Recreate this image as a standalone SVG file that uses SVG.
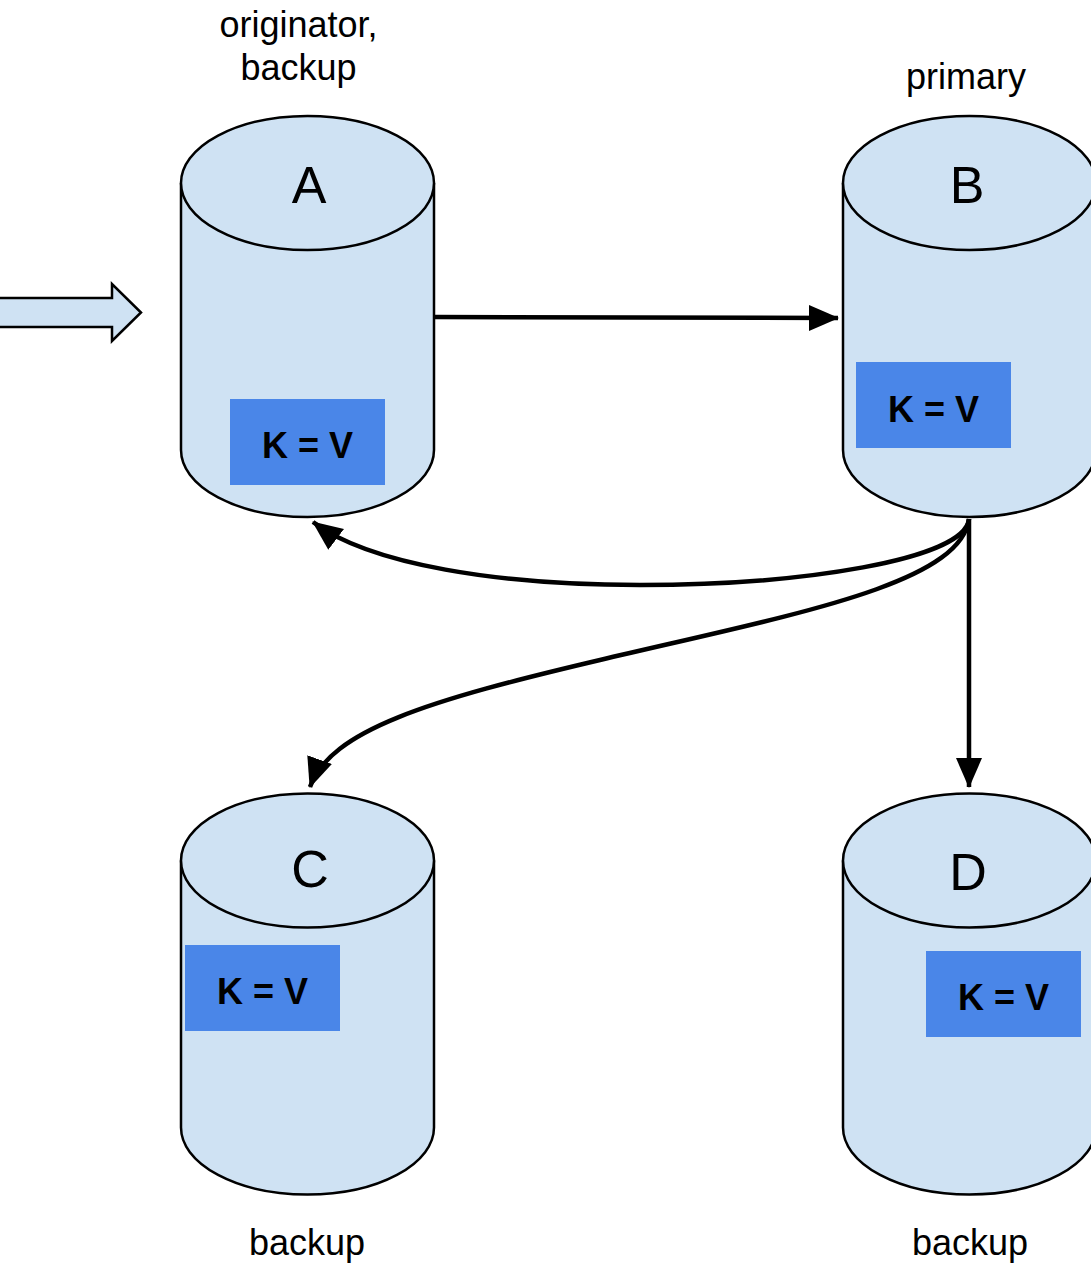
<svg xmlns="http://www.w3.org/2000/svg" width="1091" height="1265" viewBox="0 0 1091 1265">
<style>
.cyl{fill:#cfe2f3;stroke:#000;stroke-width:2.5}
.box{fill:#4a86e8}
.kv{font-family:"Liberation Sans",Arial,sans-serif;font-weight:bold;font-size:36px;text-anchor:middle;fill:#000}
.big{font-family:"Liberation Sans",Arial,sans-serif;font-size:52px;text-anchor:middle;fill:#000}
.lbl{font-family:"Liberation Sans",Arial,sans-serif;font-size:36px;text-anchor:middle;fill:#000}
.con{fill:none;stroke:#000;stroke-width:4.5;marker-end:url(#ah)}
</style>
<defs>
<marker id="ah" markerUnits="userSpaceOnUse" markerWidth="32" markerHeight="28" refX="29" refY="13" orient="auto" viewBox="0 0 32 26">
<path d="M0,0 L30,13 L0,26 Z" fill="#000"/>
</marker>
</defs>
<rect width="1091" height="1265" fill="#fff"/>

<g id="input-arrow">
<path d="M-5,298 L112,298 L112,284 L141,312.5 L112,341 L112,327 L-5,327 Z" fill="#cfe2f3" stroke="#000" stroke-width="2.5" stroke-linejoin="miter"/>
</g>

<g id="A">
<path class="cyl" d="M181,183 L181,450 A126.5,67 0 0 0 434,450 L434,183"/>
<ellipse class="cyl" cx="307.5" cy="183" rx="126.5" ry="67"/>
<text class="big" x="309" y="203">A</text>
<rect class="box" x="230" y="399" width="155" height="86"/>
<text class="kv" x="307.5" y="458">K = V</text>
<text class="lbl" x="298.5" y="37">originator,</text>
<text class="lbl" x="298.5" y="80">backup</text>
</g>

<g id="B">
<path class="cyl" d="M843,183 L843,450 A126.5,67 0 0 0 1096,450 L1096,183"/>
<ellipse class="cyl" cx="969.5" cy="183" rx="126.5" ry="67"/>
<text class="big" x="967" y="203">B</text>
<rect class="box" x="856" y="362" width="155" height="86"/>
<text class="kv" x="933.5" y="422">K = V</text>
<text class="lbl" x="966" y="89">primary</text>
</g>

<g id="C">
<path class="cyl" d="M181,860.5 L181,1127.5 A126.5,67 0 0 0 434,1127.5 L434,860.5"/>
<ellipse class="cyl" cx="307.5" cy="860.5" rx="126.5" ry="67"/>
<text class="big" x="310" y="887">C</text>
<rect class="box" x="185" y="945" width="155" height="86"/>
<text class="kv" x="262.5" y="1004">K = V</text>
<text class="lbl" x="307" y="1255">backup</text>
</g>

<g id="D">
<path class="cyl" d="M843,860.5 L843,1127.5 A126.5,67 0 0 0 1096,1127.5 L1096,860.5"/>
<ellipse class="cyl" cx="969.5" cy="860.5" rx="126.5" ry="67"/>
<text class="big" x="968" y="890">D</text>
<rect class="box" x="926" y="951" width="155" height="86"/>
<text class="kv" x="1003.5" y="1010">K = V</text>
<text class="lbl" x="970" y="1255">backup</text>
</g>

<g id="connectors">
<path class="con" d="M435,317 L838,318"/>
<path class="con" d="M969,519 C965,560 800,585 640,585 C500,585 370,565 313,522"/>
<path class="con" d="M969,519 C960,585 790,615 600,660 C430,700 330,730 310,787"/>
<path class="con" d="M969,519 L969,787"/>
</g>
</svg>
